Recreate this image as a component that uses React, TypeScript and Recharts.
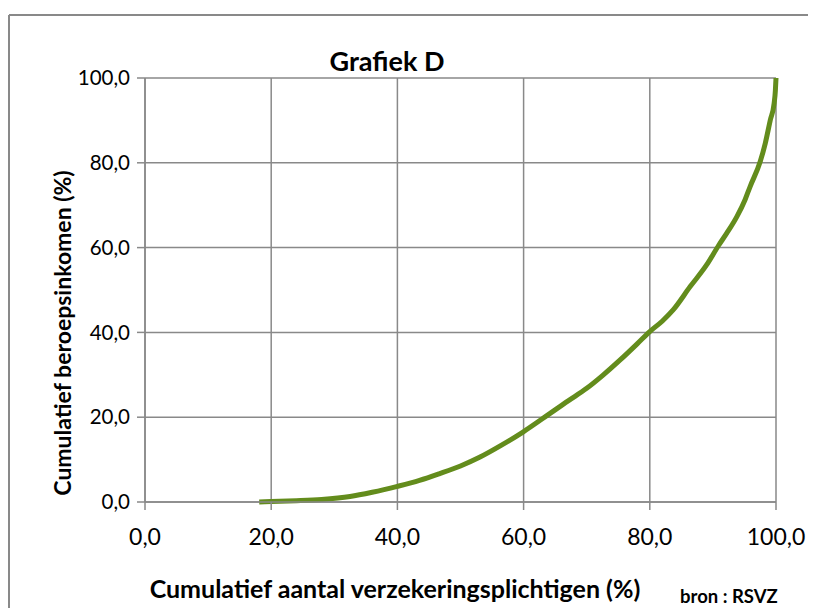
import React from "react";
import { LineChart, Line, XAxis, YAxis, CartesianGrid, Customized } from "recharts";

const xValues = [18.1, 20, 24, 28, 32.5, 36, 40, 43.5, 46.7, 50, 53.1, 56.5, 59.9, 64.2, 67, 70, 72.5, 75.3, 78, 80, 82, 83.7, 86.4, 89, 90.9, 92.2, 93.8, 95.1, 95.9, 97.5, 98.3, 99.1, 99.7, 99.9, 100];
const yValues = [0, 0.1, 0.3, 0.6, 1.3, 2.3, 3.7, 5.1, 6.7, 8.5, 10.6, 13.4, 16.5, 20.9, 23.8, 26.8, 29.8, 33.5, 37.3, 40.2, 42.7, 45.3, 50.8, 55.9, 60.5, 63.4, 67.3, 71.3, 74.4, 80.3, 84.6, 90.1, 94, 97, 100];
const xTicks = [0, 20, 40, 60, 80, 100];
const yTicks = [0, 20, 40, 60, 80, 100];

const title = "Grafiek D";
const xLabel = "Cumulatief aantal verzekeringsplichtigen (%)";
const yLabel = "Cumulatief beroepsinkomen (%)";
const source = "bron : RSVZ";

const data = xValues.map((x, i) => ({ x, y: yValues[i] }));

const fmt = (v: number) => v.toFixed(1).replace(".", ",");

const GRID = "#898989";
const FONT = "Lato, 'DejaVu Sans', sans-serif";

const Overlay = () => (
  <g>
    <line x1={1} y1={7} x2={808} y2={7} stroke={GRID} strokeWidth={2} />
    <line x1={1} y1={7} x2={1} y2={600} stroke={GRID} strokeWidth={2} />
    <text x={379} y={52} textAnchor="middle" dominantBaseline="central" fontFamily={FONT} fontWeight="bold" fontSize={27} fill="#000">{title}</text>
    <text x={387} y={580} textAnchor="middle" dominantBaseline="central" fontFamily={FONT} fontWeight="bold" fontSize={25} fill="#000">{xLabel}</text>
    <text x={672} y={588} textAnchor="start" dominantBaseline="central" fontFamily={FONT} fontWeight="bold" fontSize={18.5} fill="#000">{source}</text>
    <text x={54} y={325} textAnchor="middle" dominantBaseline="central" fontFamily={FONT} fontWeight="bold" fontSize={23} fill="#000" transform="rotate(-90 54 325)">{yLabel}</text>
  </g>
);

export default function App() {
  return (
    <div style={{ width: 808, height: 600, background: "#fff" }}>
      <LineChart width={808} height={600} data={data} margin={{ top: 70, right: 40, bottom: 0, left: 0 }}>
        <CartesianGrid stroke={GRID} strokeWidth={1.5} />
        <XAxis
          dataKey="x"
          type="number"
          domain={[0, 100]}
          ticks={xTicks}
          tickFormatter={fmt}
          height={106}
          tickSize={8}
          tickMargin={19}
          stroke={GRID}
          strokeWidth={1.5}
          tick={{ fill: "#000", fontSize: 23, fontFamily: FONT }}
          interval={0}
        />
        <YAxis
          dataKey="y"
          type="number"
          domain={[0, 100]}
          ticks={yTicks}
          tickFormatter={fmt}
          width={137}
          tickSize={8}
          tickMargin={7}
          stroke={GRID}
          strokeWidth={1.5}
          tick={{ fill: "#000", fontSize: 20.5, fontFamily: FONT }}
          interval={0}
        />
        <Line
          type="monotone"
          dataKey="y"
          stroke="#638C1C"
          strokeWidth={5}
          dot={false}
          isAnimationActive={false}
        />
        <Customized component={Overlay} />
      </LineChart>
    </div>
  );
}
